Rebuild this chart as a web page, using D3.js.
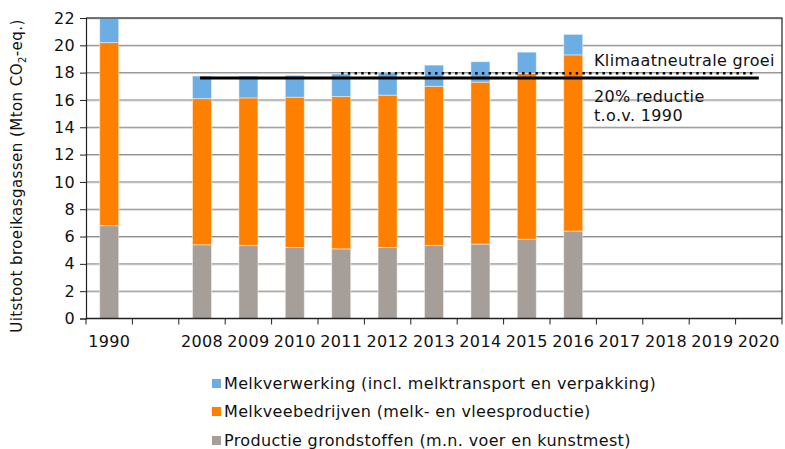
<!DOCTYPE html>
<html><head><meta charset="utf-8">
<script src="https://cdn.jsdelivr.net/npm/d3@7"></script>
<style>body{margin:0;background:#fff}svg{display:block;font-family:"DejaVu Sans",Verdana,sans-serif}</style>
</head><body><svg id="c" width="785" height="449"></svg>
<script>
const categories = ["1990","","2008","2009","2010","2011","2012","2013","2014","2015","2016","2017","2018","2019","2020"];
const grondstoffen = [6.8,null,5.4,5.35,5.2,5.1,5.2,5.35,5.45,5.8,6.4,null,null,null,null];
const veebedrijven = [13.4,null,10.7,10.8,11.0,11.15,11.15,11.65,11.85,12.15,12.9,null,null,null,null];
const verwerking = [1.8,null,1.65,1.6,1.6,1.65,1.65,1.55,1.5,1.55,1.5,null,null,null,null];
const yTicks = [0,2,4,6,8,10,12,14,16,18,20,22];
const reductie = {from:"2008", to:"2020", value:17.6};
const neutraal = {from:"2011", to:"2020", value:17.95};
const seriesNames = ["Melkverwerking (incl. melktransport en verpakking)","Melkveebedrijven (melk- en vleesproductie)","Productie grondstoffen (m.n. voer en kunstmest)"];
const colors = {grond:"#A69E98", vee:"#FF8000", verw:"#6CAEE4"};

const FS = 16, LS = 0.35;
const svg = d3.select("#c");
const L=86, R=782, T=18, B=318.5;
const x = d3.scaleBand().domain(categories.map((c,i)=>i)).range([L,R]).padding(0);
const y = d3.scaleLinear().domain([0,22]).range([B,T]);
const bw = x.bandwidth()*0.41;

// gridlines
svg.append("g").selectAll("line").data(yTicks.filter(d=>d>0)).join("line")
  .attr("x1",L).attr("x2",R).attr("y1",d=>y(d)+1).attr("y2",d=>y(d)+1)
  .attr("stroke","#d4d4d4").attr("stroke-width",1);
svg.append("g").selectAll("line").data(yTicks.filter(d=>d>0)).join("line")
  .attr("x1",L).attr("x2",R).attr("y1",d=>y(d)).attr("y2",d=>y(d))
  .attr("stroke","#888").attr("stroke-width",1);

// stacked bars
const rows = categories.map((c,i)=>({i, g:grondstoffen[i], v:veebedrijven[i], w:verwerking[i]})).filter(d=>d.g!=null);
const bars = svg.append("g");
rows.forEach(d=>{
  const segs=[[0,d.g,colors.grond],[d.g,d.g+d.v,colors.vee],[d.g+d.v,d.g+d.v+d.w,colors.verw]];
  segs.forEach(s=>{
    bars.append("rect").attr("x",x(d.i)+x.bandwidth()/2-bw/2).attr("width",bw)
      .attr("y",y(s[1])).attr("height",y(s[0])-y(s[1])).attr("fill",s[2])
      .attr("stroke","rgba(255,255,255,0.45)").attr("stroke-width",1);
  });
});

// plot border (top/right)
svg.append("path").attr("d",`M${L},${T}H${R}V${B}`).attr("fill","none").attr("stroke","#222").attr("stroke-width",1.2);

// reference lines
const cx = c=>x(categories.indexOf(c))+x.bandwidth()/2;
svg.append("line").attr("x1",cx(neutraal.from)).attr("x2",cx(neutraal.to)-4)
  .attr("y1",y(neutraal.value)).attr("y2",y(neutraal.value))
  .attr("stroke","#000").attr("stroke-width",2.5).attr("stroke-dasharray","2.4 4.3");
svg.append("line").attr("x1",cx(reductie.from)-2).attr("x2",cx(reductie.to))
  .attr("y1",y(reductie.value)).attr("y2",y(reductie.value))
  .attr("stroke","#000").attr("stroke-width",3);

// axes
const yAxis = d3.axisLeft(y).tickValues(yTicks).tickSize(6).tickPadding(5);
const gy = svg.append("g").attr("transform",`translate(${L},0)`).call(yAxis);
gy.selectAll("text").attr("font-size",FS).attr("letter-spacing",LS).attr("font-family","DejaVu Sans").attr("fill","#111");
gy.selectAll("line").attr("stroke","#222");
gy.select(".domain").attr("stroke","#222").attr("stroke-width",1.2);

const xb = d3.scaleLinear().domain([0,categories.length]).range([L,R]);
const gx = svg.append("g");
gx.append("line").attr("x1",L).attr("x2",R).attr("y1",B).attr("y2",B).attr("stroke","#222").attr("stroke-width",1.5);
gx.selectAll("line.t").data(d3.range(categories.length+1)).join("line").attr("class","t")
  .attr("x1",d=>xb(d)).attr("x2",d=>xb(d)).attr("y1",B).attr("y2",B+6).attr("stroke","#222");
gx.selectAll("text").data(categories.map((c,i)=>({c,i}))).join("text")
  .attr("x",d=>x(d.i)+x.bandwidth()/2).attr("y",347).attr("text-anchor","middle")
  .attr("font-size",FS).attr("letter-spacing",LS).attr("fill","#111").text(d=>d.c);

// y title
const yt = svg.append("text").attr("transform","translate(22,176) rotate(-90)").attr("text-anchor","middle")
  .attr("font-size",15).attr("letter-spacing",0.45).attr("fill","#111");
yt.append("tspan").text("Uitstoot broeikasgassen (Mton CO");
yt.append("tspan").attr("font-size",10).attr("dy",4).text("2");
yt.append("tspan").attr("dy",-4).text("-eq.)");

// line labels
const lab = (t,yy)=>svg.append("text").attr("x",594).attr("y",yy).attr("font-size",FS).attr("letter-spacing",LS).attr("fill","#111").text(t);
lab("Klimaatneutrale groei",65.5);
lab("20% reductie",101.5);
lab("t.o.v. 1990",120.5);

// legend
const lg = svg.append("g");
const legCols=[colors.verw,colors.vee,colors.grond];
const legY=[389,417,446];
seriesNames.forEach((n,i)=>{
  lg.append("rect").attr("x",212).attr("y",legY[i]-10).attr("width",9).attr("height",9).attr("fill",legCols[i]);
  lg.append("text").attr("x",224).attr("y",legY[i]).attr("font-size",FS).attr("letter-spacing",LS).attr("fill","#111").text(n);
});
</script></body></html>
